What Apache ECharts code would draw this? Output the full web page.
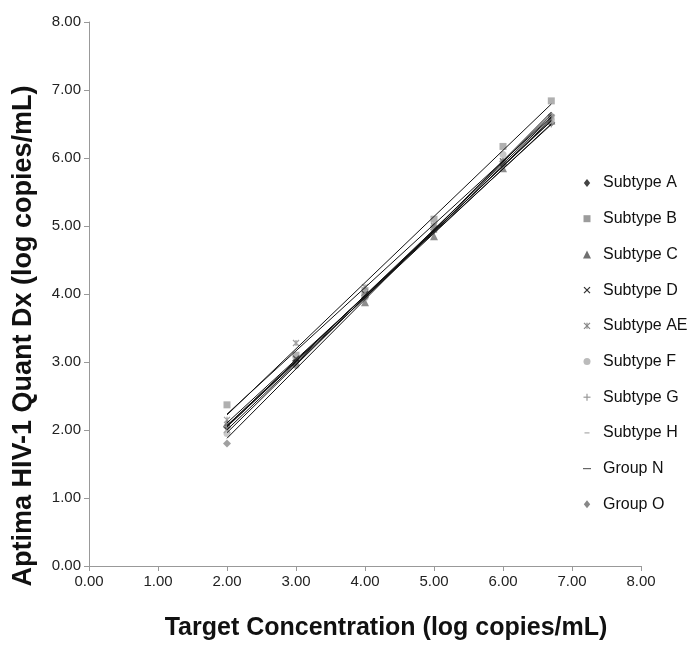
<!DOCTYPE html>
<html>
<head>
  <meta charset="utf-8">
</head>
<body style="margin: 0">
  <div id="container" style="width: 695px; height: 646px"></div>
  <script type="text/javascript" src="https://fastly.jsdelivr.net/npm/echarts@6/dist/echarts.min.js"></script>
  <script type="text/javascript">
    // target concentrations (log copies/mL)
    var targets = [2, 3, 4, 5, 6, 6.7];

    var names = ['Subtype A', 'Subtype B', 'Subtype C', 'Subtype D', 'Subtype AE',
                 'Subtype F', 'Subtype G', 'Subtype H', 'Group N', 'Group O'];

    // measured values per panel member
    var subtypeA  = [2.05, 3.02, 3.98, 4.95, 5.90, 6.52];
    var subtypeB  = [2.37, 3.10, 4.05, 5.10, 6.17, 6.84];
    var subtypeC  = [2.10, 3.00, 3.88, 4.85, 5.85, 6.55];
    var subtypeD  = [2.00, 3.05, 4.00, 4.95, 5.95, 6.55];
    var subtypeAE = [2.15, 3.28, 4.10, 5.00, 5.95, 6.60];
    var subtypeF  = [1.95, 2.95, 3.95, 4.95, 6.05, 6.55];
    var subtypeG  = [2.05, 3.00, 4.00, 4.95, 5.90, 6.50];
    var subtypeH  = [2.10, 3.05, 3.95, 4.90, 5.90, 6.45];
    var groupN    = [2.00, 2.95, 3.95, 4.95, 5.95, 6.50];
    var groupO    = [1.80, 2.95, 3.95, 5.00, 5.95, 6.62];

    var values = [subtypeA, subtypeB, subtypeC, subtypeD, subtypeAE,
                  subtypeF, subtypeG, subtypeH, groupN, groupO];

    var styles = [
      { symbol: 'diamond', size: 8, color: '#444', key: 'diamond' },
      { symbol: 'rect', size: 7, color: '#9c9c9c', key: 'rect' },
      { symbol: 'triangle', size: 8, color: '#707070', key: 'triangle' },
      { symbol: 'path://M0,0L10,10M10,0L0,10', size: 6, color: '#333', stroke: true, key: 'cross' },
      { symbol: 'path://M0,0L10,10M10,0L0,10M5,0L5,10', size: 6, color: '#888', stroke: true, key: 'star' },
      { symbol: 'circle', size: 7, color: '#bbb', key: 'circle' },
      { symbol: 'path://M5,0L5,10M0,5L10,5', size: 7, color: '#999', stroke: true, key: 'plus' },
      { symbol: 'path://M0,5L10,5', size: 5, color: '#aaa', stroke: true, key: 'dash' },
      { symbol: 'path://M0,5L10,5', size: 8, color: '#666', stroke: true, key: 'dash' },
      { symbol: 'diamond', size: 8, color: '#888', key: 'diamond' }
    ];

    // least squares trendline through each series
    function trend(xs, ys) {
      var n = xs.length, sx = 0, sy = 0, sxx = 0, sxy = 0;
      for (var i = 0; i < n; i++) {
        sx += xs[i]; sy += ys[i]; sxx += xs[i] * xs[i]; sxy += xs[i] * ys[i];
      }
      var b = (n * sxy - sx * sy) / (n * sxx - sx * sx);
      var a = (sy - b * sx) / n;
      var x0 = xs[0], x1 = xs[n - 1];
      return [[x0, a + b * x0], [x1, a + b * x1]];
    }

    var series = [];
    names.forEach(function (name, k) {
      var st = styles[k];
      series.push({
        name: name,
        type: 'scatter',
        symbol: st.symbol,
        symbolSize: st.size,
        z: 3,
        itemStyle: st.stroke
          ? { color: st.color, borderColor: st.color, borderWidth: 1.2 }
          : { color: st.color },
        data: targets.map(function (t, i) { return [t, values[k][i]]; })
      });
    });
    names.forEach(function (name, k) {
      series.push({
        name: name + ' trend',
        type: 'line',
        symbol: 'none',
        silent: true,
        z: 4,
        lineStyle: { color: '#111', width: 1 },
        data: trend(targets, values[k])
      });
    });

    // legend key drawn by hand (marker + label per row)
    function keyShape(key, cx, cy, color, size) {
      var h = size / 2;
      var ln = function (x1, y1, x2, y2) {
        return { type: 'line', shape: { x1: x1, y1: y1, x2: x2, y2: y2 }, style: { stroke: color, lineWidth: 1.2 } };
      };
      switch (key) {
        case 'diamond': return [{ type: 'polygon', shape: { points: [[cx, cy - h], [cx + h * 0.8, cy], [cx, cy + h], [cx - h * 0.8, cy]] }, style: { fill: color } }];
        case 'rect': return [{ type: 'rect', shape: { x: cx - h, y: cy - h, width: size, height: size }, style: { fill: color } }];
        case 'triangle': return [{ type: 'polygon', shape: { points: [[cx, cy - h], [cx + h, cy + h], [cx - h, cy + h]] }, style: { fill: color } }];
        case 'circle': return [{ type: 'circle', shape: { cx: cx, cy: cy, r: h }, style: { fill: color } }];
        case 'cross': return [ln(cx - h, cy - h, cx + h, cy + h), ln(cx + h, cy - h, cx - h, cy + h)];
        case 'star': return [ln(cx - h, cy - h, cx + h, cy + h), ln(cx + h, cy - h, cx - h, cy + h), ln(cx, cy - h, cx, cy + h)];
        case 'plus': return [ln(cx, cy - h, cx, cy + h), ln(cx - h, cy, cx + h, cy)];
        default: return [ln(cx - h, cy, cx + h, cy)];
      }
    }
    var legendItems = [];
    names.forEach(function (name, k) {
      var st = styles[k];
      var cy = 183 + k * 35.7;
      legendItems = legendItems.concat(keyShape(st.key, 587, cy, st.color, st.size));
      legendItems.push({
        type: 'text',
        x: 603, y: cy,
        style: { text: name, fill: '#111', font: '16px Arial', verticalAlign: 'middle', textVerticalAlign: 'middle' }
      });
    });

    var myChart = echarts.init(document.getElementById('container'), null, { renderer: 'canvas' });
    var axisText = { color: '#222', fontFamily: 'Arial', fontSize: 15 };
    var option = {
      animation: false,
      backgroundColor: '#fff',
      graphic: legendItems,
      grid: { left: 89, right: 54, top: 22, bottom: 74 },
      xAxis: {
        type: 'value',
        min: 0, max: 8, interval: 1,
        name: 'Target Concentration (log copies/mL)',
        nameLocation: 'middle',
        nameGap: 50,
        nameTextStyle: { color: '#111', fontWeight: 'bold', fontSize: 25, fontFamily: 'Arial', padding: [0, 0, 0, 42] },
        axisLine: { lineStyle: { color: '#999' } },
        axisTick: { lineStyle: { color: '#999' } },
        splitLine: { show: false },
        axisLabel: Object.assign({ formatter: function (v) { return v.toFixed(2); } }, axisText)
      },
      yAxis: {
        type: 'value',
        min: 0, max: 8, interval: 1,
        name: 'Aptima HIV-1 Quant Dx (log copies/mL)',
        nameLocation: 'middle',
        nameGap: 52,
        nameTextStyle: { color: '#111', fontWeight: 'bold', fontSize: 27, fontFamily: 'Arial', padding: [0, 84, 0, 0] },
        axisLine: { show: true, lineStyle: { color: '#999' } },
        axisTick: { show: true, lineStyle: { color: '#999' } },
        splitLine: { show: false },
        axisLabel: Object.assign({ formatter: function (v) { return v.toFixed(2); } }, axisText)
      },
      series: series
    };
    myChart.setOption(option);
    window.addEventListener('resize', myChart.resize);
  </script>
</body>
</html>
